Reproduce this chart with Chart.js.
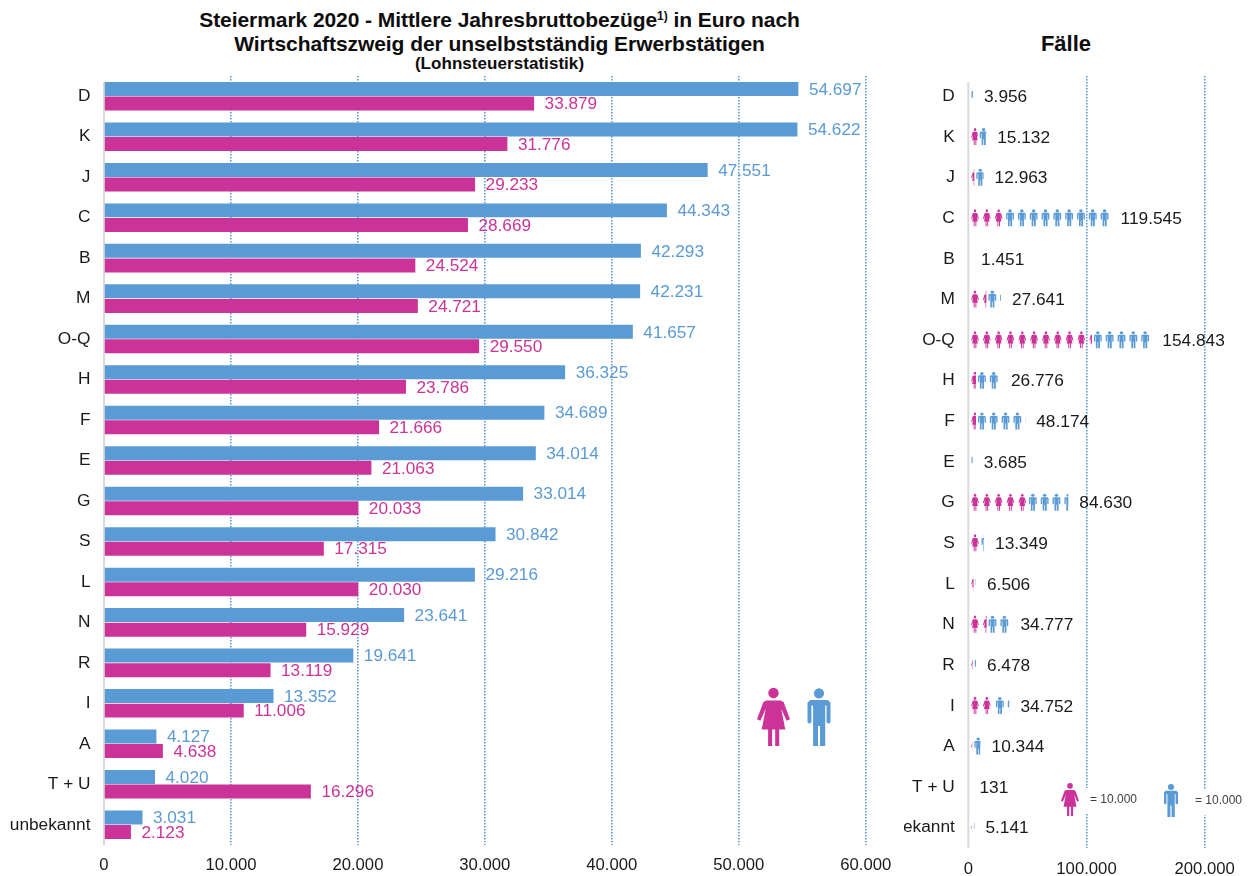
<!DOCTYPE html>
<html lang="de">
<head>
<meta charset="utf-8">
<title>Steiermark 2020</title>
<script src="https://cdn.jsdelivr.net/npm/chart.js@4"></script>
<style>
html,body{margin:0;padding:0;background:#fff;width:1254px;height:876px;overflow:hidden;}
canvas{position:absolute;top:0;display:block;}
#left{left:0;}
#right{left:904px;}
.t{position:absolute;font-family:"Liberation Sans",Arial,sans-serif;font-weight:bold;color:#0d0d0d;white-space:nowrap;transform:translateX(-50%);line-height:1;}
.t sup{font-size:12px;line-height:0;vertical-align:7px;}
</style>
</head>
<body>
<div class="t" style="left:499.5px;top:9px;font-size:21px;letter-spacing:-.07px;">Steiermark 2020 - Mittlere Jahresbruttobezüge<sup>1)</sup> in Euro nach</div>
<div class="t" style="left:499.5px;top:33px;font-size:21px;letter-spacing:-.07px;">Wirtschaftszweig der unselbstständig Erwerbstätigen</div>
<div class="t" style="left:499.5px;top:54.5px;font-size:17px;letter-spacing:.05px;">(Lohnsteuerstatistik)</div>
<div class="t" style="left:1066px;top:33px;font-size:22px;">Fälle</div>
<canvas id="left" width="904" height="876"></canvas>
<canvas id="right" width="350" height="876"></canvas>
<script>
const categories = ['D','K','J','C','B','M','O-Q','H','F','E','G','S','L','N','R','I','A','T + U','unbekannt'];
const salaryMen = [54697,54622,47551,44343,42293,42231,41657,36325,34689,34014,33014,30842,29216,23641,19641,13352,4127,4020,3031];
const salaryWomen = [33879,31776,29233,28669,24524,24721,29550,23786,21666,21063,20033,17315,20030,15929,13119,11006,4638,16296,2123];
const casesWomen = [1000,7960,5100,30300,600,15300,104600,6500,6500,1000,49600,9500,4500,15500,3800,21700,3400,80,3000];
const casesMen = [2956,7172,7863,89245,851,12341,50243,20276,41674,2685,35030,3849,2006,19277,2678,13052,6944,51,2141];
const casesTotal = [3956,15132,12963,119545,1451,27641,154843,26776,48174,3685,84630,13349,6506,34777,6478,34752,10344,131,5141];
const salaryTicks = [0,10000,20000,30000,40000,50000,60000];
const casesTicks = [0,100000,200000];
const iconUnit = 10000;

const BLUE = '#5B9BD5', MAGENTA = '#CC3399', INK = '#1a1a1a', AXIS = '#D9D9D9';
const FONT = '"Liberation Sans", Arial, sans-serif';
const fmt = n => String(n).replace(/\B(?=(\d{3})+$)/g, '.');

const WOMAN = {w:98,h:173,head:[49,15,15.5],pts:[[28,37],[70,37],[79,42],[98,93],[88,98],[72,62],[84,124],[66,124],[66,173],[54,173],[54,124],[45,124],[45,173],[33,173],[33,124],[14,124],[26,62],[10,98],[0,93],[19,42]]};
const MAN = {w:70,h:173,head:[35,16,15.5],pts:[[8,36],[62,36],[70,44],[70,102],[64,107],[58,102],[58,52],[54,52],[54,173],[38,173],[38,113],[32,113],[32,173],[17,173],[17,52],[12,52],[12,102],[6,107],[0,102],[0,44]]};
function drawIcon(ctx, icon, x, y, w, h, color){
  const sx = w/icon.w, sy = h/icon.h;
  ctx.save();
  ctx.translate(x,y);
  ctx.scale(sx,sy);
  ctx.fillStyle = color;
  ctx.beginPath();
  icon.pts.forEach((p,i)=> i ? ctx.lineTo(p[0],p[1]) : ctx.moveTo(p[0],p[1]));
  ctx.closePath();
  ctx.fill();
  ctx.beginPath();
  ctx.arc(icon.head[0],icon.head[1],icon.head[2],0,Math.PI*2);
  ctx.fill();
  ctx.restore();
}

const axisLine = {
  id:'axisLine',
  beforeDatasetsDraw(chart){
    const {ctx,chartArea:a,scales:{x}} = chart;
    const px = x.getPixelForValue(0);
    ctx.save();
    ctx.strokeStyle = AXIS;
    ctx.lineWidth = 2;
    ctx.beginPath();
    ctx.moveTo(px,a.top+6);
    ctx.lineTo(px,a.bottom);
    ctx.stroke();
    ctx.restore();
  }
};

const salaryLabels = {
  id:'salaryLabels',
  afterDatasetsDraw(chart){
    const {ctx} = chart;
    ctx.save();
    ctx.font = '17.2px '+FONT;
    ctx.textAlign = 'left';
    ctx.textBaseline = 'middle';
    chart.data.datasets.forEach((ds,di)=>{
      ctx.fillStyle = di===0 ? BLUE : MAGENTA;
      chart.getDatasetMeta(di).data.forEach((el,i)=>{
        ctx.fillText(fmt(ds.data[i]), el.x+10.5, el.y+1);
      });
    });
    // legend figures
    drawIcon(ctx,WOMAN,757,688,33,58,MAGENTA);
    drawIcon(ctx,MAN,807.5,688,23,58,BLUE);
    ctx.restore();
  }
};

const pictograms = {
  id:'pictograms',
  afterDatasetsDraw(chart){
    const {ctx,scales:{x}} = chart;
    const cell = x.getPixelForValue(iconUnit)-x.getPixelForValue(0);
    const iw = 7.8, ih = 17;
    chart.data.datasets.forEach((ds,di)=>{
      const icon = di===0 ? WOMAN : MAN, color = di===0 ? MAGENTA : BLUE;
      chart.getDatasetMeta(di).data.forEach(el=>{
        const start = el.base, end = el.x;
        if(end<=start) return;
        ctx.save();
        ctx.beginPath();
        ctx.rect(start,el.y-12,end-start,24);
        ctx.clip();
        for(let k=0; start+k*cell<end; k++){
          drawIcon(ctx,icon,start+k*cell+(cell-iw)/2,el.y-ih/2-0.4,iw,ih,color);
        }
        ctx.restore();
      });
    });
    // totals
    ctx.save();
    ctx.font = '17.3px '+FONT;
    ctx.fillStyle = INK;
    ctx.textAlign = 'left';
    ctx.textBaseline = 'middle';
    chart.getDatasetMeta(1).data.forEach((el,i)=>{
      ctx.fillText(fmt(casesTotal[i]), el.x+11, el.y+1);
    });
    // legend
    ctx.fillStyle = '#fff';
    ctx.fillRect(181,788,62,25);
    ctx.fillRect(283,790,67,25);
    drawIcon(ctx,WOMAN,157,783,18,33,MAGENTA);
    drawIcon(ctx,MAN,260,784,14,33,BLUE);
    ctx.font = '12px '+FONT;
    ctx.fillStyle = '#404040';
    ctx.fillText('= 10.000',186,799.5);
    ctx.fillText('= 10.000',291,800.5);
    ctx.restore();
  }
};

function baseOptions(maxV, ticksV, leftW, rightPad, xHeight, xPad, yPad, stacked){
  return {
    indexAxis:'y',
    responsive:false,
    animation:false,
    events:[],
    layout:{padding:{top:76,right:rightPad,left:0,bottom:0}},
    plugins:{legend:{display:false},tooltip:{enabled:false},title:{display:false}},
    scales:{
      x:{
        type:'linear',min:0,max:maxV,stacked,
        afterBuildTicks(s){ s.ticks = ticksV.map(v=>({value:v})); },
        afterFit(s){ s.height = xHeight; },
        grid:{
          drawTicks:false,
          lineWidth:1.6,
          color:c=> c.tick && c.tick.value===0 ? 'rgba(0,0,0,0)' : BLUE
        },
        border:{display:false,dash:[1.5,1.5]},
        ticks:{
          font:{family:FONT,size:16.7},color:INK,padding:xPad,maxRotation:0,autoSkip:false,
          callback:v=>fmt(v)
        }
      },
      y:{
        type:'category',stacked,
        afterFit(s){ s.width = leftW; },
        grid:{display:false,drawTicks:false},
        border:{display:false},
        ticks:{font:{family:FONT,size:17.3},color:INK,padding:yPad,autoSkip:false}
      }
    }
  };
}

new Chart(document.getElementById('left'),{
  type:'bar',
  data:{labels:categories,datasets:[
    {label:'Männer',data:salaryMen,backgroundColor:BLUE,categoryPercentage:0.72,barPercentage:0.96},
    {label:'Frauen',data:salaryWomen,backgroundColor:MAGENTA,categoryPercentage:0.72,barPercentage:0.96}
  ]},
  options:baseOptions(60000,salaryTicks,104,38.3,31,10,13.5,false),
  plugins:[axisLine,salaryLabels]
});

new Chart(document.getElementById('right'),{
  type:'bar',
  data:{labels:categories,datasets:[
    {label:'Frauen',data:casesWomen,backgroundColor:'rgba(0,0,0,0)',categoryPercentage:0.7,barPercentage:1},
    {label:'Männer',data:casesMen,backgroundColor:'rgba(0,0,0,0)',categoryPercentage:0.7,barPercentage:1}
  ]},
  options:baseOptions(200000,casesTicks,64.3,49.3,28,11,13.5,true),
  plugins:[axisLine,pictograms]
});
</script>
</body>
</html>
